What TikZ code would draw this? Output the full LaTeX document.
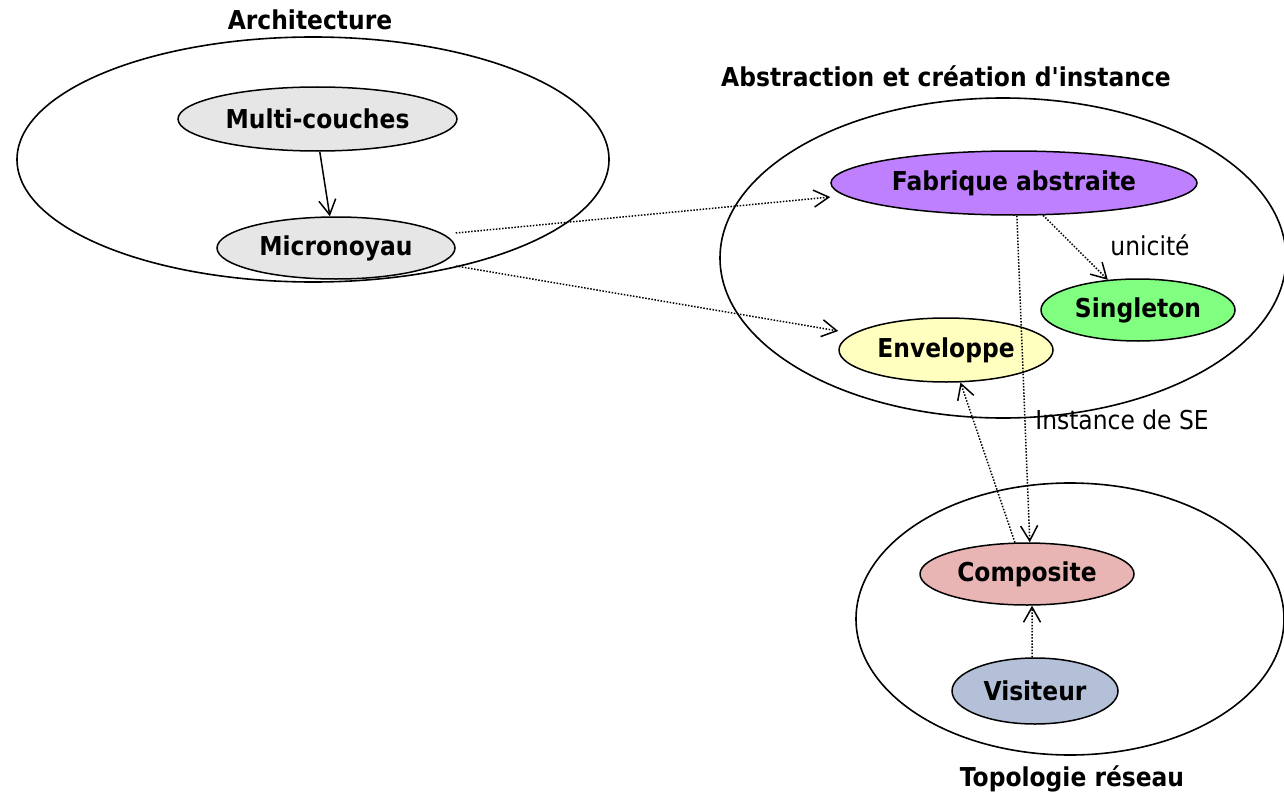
\documentclass[tikz,border=0pt]{standalone}
\usepackage{fontspec}
\setmainfont{DejaVu Sans}
\newfontfamily\lblfont[FakeStretch=0.9]{DejaVu Sans}
\usetikzlibrary{shapes.geometric,arrows.meta}
\definecolor{cgray}{RGB}{230,230,230}
\definecolor{cpurple}{RGB}{191,128,255}
\definecolor{cgreen}{RGB}{128,255,128}
\definecolor{cyellow}{RGB}{255,255,192}
\definecolor{cpink}{RGB}{232,180,180}
\definecolor{cblue}{RGB}{180,192,216}
\tikzset{
  group/.style={draw, line width=1.6pt, ellipse, inner sep=0pt},
  pattern/.style={draw, line width=1.5pt, ellipse, inner sep=0pt,
    font=\lblfont\bfseries\fontsize{26}{30}\selectfont},
  title/.style={font=\lblfont\bfseries\fontsize{26}{30}\selectfont, inner sep=0pt},
  note/.style={font=\lblfont\fontsize{26}{30}\selectfont, inner sep=0pt},
  link/.style={line width=1.5pt, dash pattern=on 1.5pt off 1.6pt,
    -{Straight Barb[length=15pt,width=17pt,line width=1.5pt]}},
  solidlink/.style={line width=1.5pt,
    -{Straight Barb[length=15pt,width=17pt,line width=1.5pt]}}
}
\begin{document}
\begin{tikzpicture}[x=1pt,y=-1pt]
\useasboundingbox (0,0) rectangle (1284,797);
\fill[white] (0,0) rectangle (1284,797);

% groups
\node[group, minimum width=592pt, minimum height=245pt] (arch) at (313,159.5) {};
\node[group, minimum width=566pt, minimum height=320pt] (abst) at (1003,258) {};
\node[group, minimum width=428pt, minimum height=272pt] (topo) at (1070,619) {};

\node[title] (archT) at (310,20) {Architecture};
\node[title] (abstT) at (946,76) {Abstraction et création d'instance};
\node[title] (topoT) at (1072,779) {Topologie réseau};

% patterns
\node[pattern, fill=cgray, minimum width=279pt, minimum height=64pt] (multi) at (317.5,119) {Multi-couches};
\node[pattern, fill=cgray, minimum width=238pt, minimum height=62pt] (micro) at (336,248) {Micronoyau};
\node[pattern, fill=cpurple, minimum width=366pt, minimum height=64pt] (fab) at (1014,183) {Fabrique abstraite};
\node[pattern, fill=cgreen, minimum width=194pt, minimum height=62pt] (single) at (1138,310) {Singleton};
\node[pattern, fill=cyellow, minimum width=214pt, minimum height=64pt] (env) at (946,350) {Enveloppe};
\node[pattern, fill=cpink, minimum width=214pt, minimum height=62pt] (comp) at (1027,574) {Composite};
\node[pattern, fill=cblue, minimum width=166pt, minimum height=66pt] (visit) at (1035,691) {Visiteur};

% relations
\draw[solidlink] (multi.-86) -- (micro.101);
\draw[link] ([yshift=15pt]micro.east) -- ([yshift=-14pt]fab.west);
\draw[link] ([yshift=-18pt]micro.east) -- ([yshift=19pt]env.west);
\draw[link] (fab.-48) -- (single.135);
\draw[link] (fab.-85) -- (comp.85);
\draw[link] (comp.111) -- (env.-66);
\draw[link] (visit.95) -- (comp.-81);

\node[note] (uniq) at (1150,245) {unicité};
\node[note] (inst) at (1122,420) {Instance de SE};
\end{tikzpicture}
\end{document}
